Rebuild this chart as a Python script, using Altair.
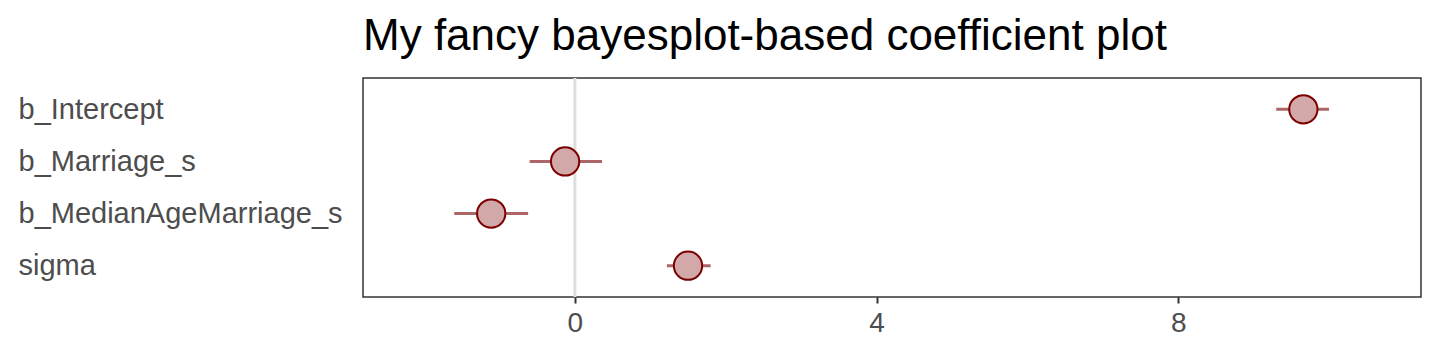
import altair as alt
import pandas as pd

params = ["b_Intercept", "b_Marriage_s", "b_MedianAgeMarriage_s", "sigma"]
estimates = [9.66, -0.13, -1.11, 1.50]
lower = [9.30, -0.60, -1.60, 1.22]
upper = [10.00, 0.36, -0.62, 1.80]
x_ticks = [0, 4, 8]

df = pd.DataFrame({"param": params, "est": estimates, "lo": lower, "hi": upper})

xscale = alt.Scale(domain=[-2.81, 11.22], nice=False, zero=False)
yscale = alt.Scale(type="point", domain=params, padding=0.6)

base = alt.Chart(df)

zero = alt.Chart(pd.DataFrame({"z": [0]})).mark_rule(color="#dedede", strokeWidth=3).encode(
    x=alt.X("z:Q", scale=xscale)
)

rules = base.mark_rule(color="#ad6668", strokeWidth=3).encode(
    x=alt.X("lo:Q", scale=xscale,
            axis=alt.Axis(values=x_ticks, format="d", title=None, grid=False, labelFontSize=28,
                          labelColor="#4d4d4d", tickColor="#333333", tickSize=6,
                          tickWidth=2, labelPadding=6, domain=False, labelFont="Liberation Sans")),
    x2="hi:Q",
    y=alt.Y("param:N", scale=yscale,
            axis=alt.Axis(title=None, labelAlign="left", labelPadding=345, tickSize=0,
                          labelFontSize=29, labelColor="#4d4d4d", domain=False, grid=False,
                          labelLimit=0, labelFont="Liberation Sans")),
)

points = base.mark_point(filled=True, shape="circle", size=800, fill="#d2a8a9",
                         stroke="#7c0000", strokeWidth=2, opacity=1, fillOpacity=1).encode(
    x=alt.X("est:Q", scale=xscale),
    y=alt.Y("param:N", scale=yscale),
)

chart = alt.layer(zero, rules, points).properties(
    width=1058,
    height=219,
    title=alt.TitleParams("My fancy bayesplot-based coefficient plot", anchor="start",
                          frame="group", fontSize=44, font="Liberation Sans",
                          fontWeight="normal", color="#000000", offset=18),
    padding={"left": 363, "top": 78, "right": 19, "bottom": 63},
    autosize=alt.AutoSizeParams(type="none"),
).configure_view(stroke="#333333", strokeWidth=1.5)

chart.save("out.html", embed_options={"renderer": "svg", "actions": False})
